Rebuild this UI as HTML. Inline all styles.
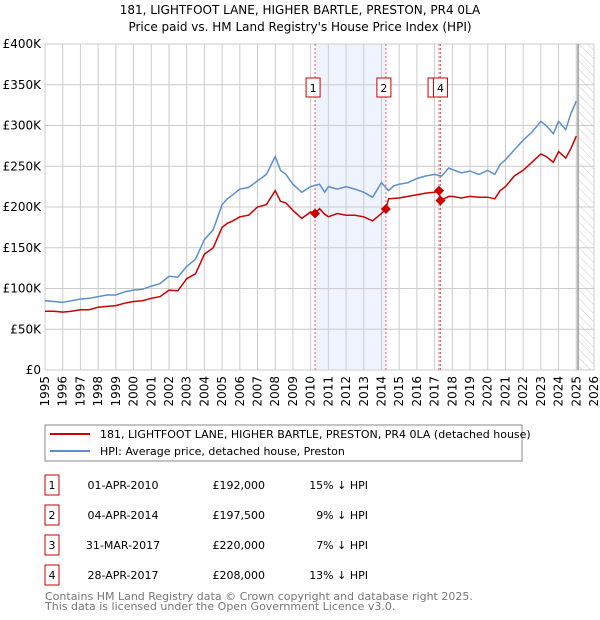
<!DOCTYPE html>
<html><head><meta charset="utf-8"><style>
body{margin:0;background:#fff;}
svg{display:block;font-family:"DejaVu Sans","Liberation Sans",sans-serif;}
</style></head><body>
<svg id="c" width="600" height="620" viewBox="0 0 600 620">
<defs><pattern id="hatch" width="6" height="6" patternUnits="userSpaceOnUse" patternTransform="rotate(-45)"><line x1="0" y1="0" x2="0" y2="6" stroke="#ccc" stroke-width="1"/></pattern></defs>
<text x="300" y="14" text-anchor="middle" font-size="12">181, LIGHTFOOT LANE, HIGHER BARTLE, PRESTON, PR4 0LA</text>
<text x="300" y="31" text-anchor="middle" font-size="12">Price paid vs. HM Land Registry's House Price Index (HPI)</text>
<g id="plot"></g>
<rect x="45" y="425" width="477" height="36" fill="#fff" stroke="#888"/>
<line x1="50" y1="434" x2="90" y2="434" stroke="#cc0000" stroke-width="2"/>
<text x="100" y="438" font-size="11">181, LIGHTFOOT LANE, HIGHER BARTLE, PRESTON, PR4 0LA (detached house)</text>
<line x1="50" y1="451" x2="90" y2="451" stroke="#5b8fd0" stroke-width="2"/>
<text x="100" y="455" font-size="11">HPI: Average price, detached house, Preston</text>
<g id="tbl" font-size="11"></g>
<text x="45" y="600" font-size="11" fill="#777">Contains HM Land Registry data © Crown copyright and database right 2025.</text>
<text x="45" y="610" font-size="11" fill="#777">This data is licensed under the Open Government Licence v3.0.</text>
</svg>
<script>
const hpiYears=[1995,1995.5,1996,1996.5,1997,1997.5,1998,1998.5,1999,1999.5,2000,2000.5,2001,2001.5,2002,2002.5,2003,2003.5,2004,2004.5,2005,2005.3,2005.6,2006,2006.5,2007,2007.5,2008,2008.3,2008.6,2009,2009.5,2010,2010.5,2010.8,2011,2011.5,2012,2012.5,2013,2013.5,2014,2014.4,2014.7,2015,2015.5,2016,2016.5,2017,2017.4,2017.8,2018,2018.5,2019,2019.5,2020,2020.4,2020.7,2021,2021.5,2022,2022.5,2023,2023.3,2023.7,2024,2024.4,2024.7,2025];
const hpiValues=[85,84,83,85,87,88,90,92,92,96,98,99,103,106,115,114,127,136,160,172,203,210,215,222,224,232,240,262,245,240,228,218,225,228,218,225,222,225,222,218,212,230,220,226,228,230,235,238,240,238,248,246,242,244,240,245,240,252,258,270,282,292,305,300,290,305,295,315,330];
const ppYears=[1995,1995.5,1996,1996.5,1997,1997.5,1998,1998.5,1999,1999.5,2000,2000.5,2001,2001.5,2002,2002.5,2003,2003.5,2004,2004.5,2005,2005.3,2005.6,2006,2006.5,2007,2007.5,2008,2008.3,2008.6,2009,2009.5,2010,2010.25,2010.5,2010.8,2011,2011.5,2012,2012.5,2013,2013.5,2014,2014.25,2014.4,2015,2015.5,2016,2016.5,2017,2017.25,2017.33,2017.8,2018,2018.5,2019,2019.5,2020,2020.4,2020.7,2021,2021.5,2022,2022.5,2023,2023.3,2023.7,2024,2024.4,2024.7,2025];
const ppValues=[72,72,71,72,74,74,77,78,79,82,84,85,88,90,98,97,112,118,142,150,175,180,183,188,190,200,203,220,207,205,196,186,194,192,198,191,188,192,190,190,188,183,192,197.5,210,211,213,215,217,218,220,208,213,213,211,213,212,212,210,220,225,238,245,255,265,262,255,268,260,272,287];
const saleYears=[2010.25,2014.25,2017.25,2017.33];
const saleValues=[192,197.5,220,208];
const saleLabels=["1","2","3","4"];
const saleDates=["01-APR-2010","04-APR-2014","31-MAR-2017","28-APR-2017"];
const salePrices=["£192,000","£197,500","£220,000","£208,000"];
const saleDiffs=["15% ↓ HPI","9% ↓ HPI","7% ↓ HPI","13% ↓ HPI"];
const yTicks=[0,50,100,150,200,250,300,350,400];
const yTickLabels=["£0","£50K","£100K","£150K","£200K","£250K","£300K","£350K","£400K"];
const xTicks=[1995,1996,1997,1998,1999,2000,2001,2002,2003,2004,2005,2006,2007,2008,2009,2010,2011,2012,2013,2014,2015,2016,2017,2018,2019,2020,2021,2022,2023,2024,2025,2026];

const X0=45,X1=594,Y0=370,Y1=44;
const xs=y=>X0+(y-1995)/(2026-1995)*(X1-X0);
const ys=v=>Y0-v/400*(Y0-Y1);
const NS="http://www.w3.org/2000/svg";
const plot=document.getElementById('plot');
function mk(tag,attrs,parent){const e=document.createElementNS(NS,tag);for(const k in attrs)e.setAttribute(k,attrs[k]);(parent||plot).appendChild(e);return e;}

let r=mk('rect',{x:xs(saleYears[0]),y:Y1,width:xs(saleYears[1])-xs(saleYears[0]),height:Y0-Y1,fill:'#eef3fd'});


let h=mk('rect',{x:xs(2025.1),y:Y1,width:X1-xs(2025.1),height:Y0-Y1,fill:'url(#hatch)'});


yTicks.forEach((t,i)=>{
  let l=mk('line',{x1:X0,x2:X1,y1:ys(t),y2:ys(t),stroke:'#ccc'});
  
  
  let tx=mk('text',{x:X0-4,y:ys(t)+4,'text-anchor':'end','font-size':12});
  tx.textContent=yTickLabels[i];
  
  
});
xTicks.forEach(t=>{
  let l=mk('line',{x1:xs(t),x2:xs(t),y1:Y1,y2:Y0,stroke:'#ccc'});
  
  
  let tx=mk('text',{x:0,y:0,'font-size':12,'text-anchor':'end',transform:`translate(${xs(t)+4},${Y0+6}) rotate(-90)`});
  tx.textContent=t;
  
  
});
let nl=mk('line',{x1:xs(2025.1),x2:xs(2025.1),y1:Y1,y2:Y0,stroke:'#999','stroke-width':1.5});


saleYears.forEach(y=>{
  let l=mk('line',{x1:xs(y),x2:xs(y),y1:Y1,y2:Y0,stroke:'#e06060','stroke-dasharray':'2,2'});
  
  
});
function path(xsA,vs,col,name){
  let d=xsA.map((y,i)=>(i?'L':'M')+xs(y).toFixed(1)+','+ys(vs[i]).toFixed(1)).join('');
  let p=mk('path',{d:d,fill:'none',stroke:col,'stroke-width':1.5});
  
  
}
path(hpiYears,hpiValues,'#5b8fd0','hpi-line');
path(ppYears,ppValues,'#cc0000','price-paid-line');
saleYears.forEach((y,i)=>{
  const cx=xs(y),cy=ys(saleValues[i]);
  let c=mk('path',{d:`M${cx},${cy-5}L${cx+5},${cy}L${cx},${cy+5}L${cx-5},${cy}Z`,fill:'#cc0000'});
  
  
});
const boxOff=[0,0,-2,2];
saleYears.forEach((y,i)=>{
  let b=mk('rect',{x:xs(y)-9+boxOff[i],y:78,width:14,height:19,fill:'#fff',stroke:'#cc0000'});
  
  
  if(i==2)return;
  let t=mk('text',{x:xs(y)-2+boxOff[i],y:92,'text-anchor':'middle','font-size':11});
  t.textContent=saleLabels[i];
  
  
});
const tbl=document.getElementById('tbl');
saleLabels.forEach((s,i)=>{
  const y=475+i*30;
  let b=mk('rect',{x:45,y:y,width:14,height:20,fill:'#fff',stroke:'#cc0000'},tbl);
  
  
  const cells=[[52,s,'middle'],[123,saleDates[i],'middle'],[265,salePrices[i],'end'],[368,saleDiffs[i],'end']];
  cells.forEach(c=>{
    let t=mk('text',{x:c[0],y:y+14,'text-anchor':c[2]},tbl);
    t.textContent=c[1];
    
    
  });
});
</script>
</body></html>
